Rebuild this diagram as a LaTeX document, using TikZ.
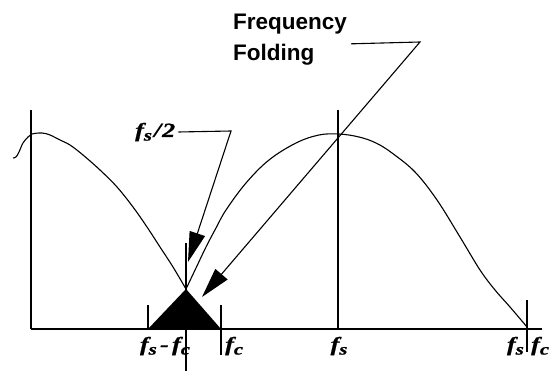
\documentclass[tikz,border=0pt]{standalone}
\usepackage{fontspec}
\setmainfont{Liberation Serif}
\newfontfamily\notefont{Liberation Sans}
\newfontfamily\freqfont[FakeStretch=1.3,FakeBold=1]{Liberation Serif}
\usetikzlibrary{positioning,arrows.meta}
\newcommand{\fsub}[1]{f\raisebox{-0.4ex}{\fontsize{16}{16}\selectfont #1}}
\tikzset{
    freqlabel/.style={
        font=\fontsize{20}{22}\selectfont\freqfont\bfseries\itshape,
        inner sep=0pt
    },
    notelabel/.style={
        font=\fontsize{22.5}{31}\selectfont\notefont\bfseries,
        align=left,
        inner sep=0pt
    },
    curve/.style={line width=1.1pt, line join=round},
    marker/.style={line width=1.1pt},
    pointer/.style={-{Triangle[length=30pt,width=16pt]}, line width=1.1pt}
}

\begin{document}
\begin{tikzpicture}[x=1pt,y=-1pt]
\useasboundingbox (0,0) rectangle (553,371);

% Axis and markers
\coordinate (origin) at (31,329);
\coordinate (axisend) at (542,329);
\draw[marker] (origin) -- (axisend);
\draw[marker] (31,110) -- (origin);
\draw[marker] (186,243) -- (186,371);
\draw[marker] (148,305) -- (148,329);
\draw[marker] (221,305) -- (221,355);
\draw[marker] (338,110) -- (338,329);
\draw[marker] (527,300) -- (527,352);

% Folded band
\coordinate (apex) at (186,289);
\fill (148,329) -- (apex) -- (221,329) -- cycle;

% Spectra
\draw[curve] plot[smooth, tension=0.6] coordinates {
    (13,158) (16,157) (19,152) (23,143) (28,137) (32,134) (42,133)
    (50,135) (60,140) (70,145) (83,155) (100,170) (117,187) (133,207)
    (147,227) (160,247) (173,267) (186,289)};
\draw[curve] plot[smooth, tension=0.6] coordinates {
    (186,289) (196,268) (206,247) (216,228) (226,210) (246,183)
    (269,160) (296,143) (319,135) (339,134) (359,137) (376,143)
    (392,153) (415,172) (437,200) (460,237) (480,270) (495,290)
    (510,307) (527,327)};

% Labels
\node[freqlabel] (fsfc) at (165,346) {\fsub{s}\,-\,\fsub{c}};
\node[freqlabel, anchor=west] (fc) at (225,346) {\fsub{c}};
\node[freqlabel] (fs) at (339,346) {\fsub{s}};
\node[freqlabel, anchor=east] (fsend) at (524,346) {\fsub{s}};
\node[freqlabel, anchor=west] (fcend) at (531,346) {\fsub{c}};

% Pointers
\node[freqlabel, anchor=west] (half) at (135,132) {\fsub{s}\kern2pt/\kern1pt2};
\coordinate (halfbend) at (231,131);
\coordinate (halftip) at (188,262);
\draw[pointer] ([xshift=3pt]half.east) -- (halfbend) -- (halftip);

\node[notelabel, anchor=north west] (folding) at (233,14) {Frequency\\Folding};
\coordinate (foldbend) at (420,42);
\coordinate (foldtip) at (202,297);
\draw[pointer] ([xshift=4pt,yshift=-4pt]folding.east) -- (foldbend) -- (foldtip);

\end{tikzpicture}
\end{document}
